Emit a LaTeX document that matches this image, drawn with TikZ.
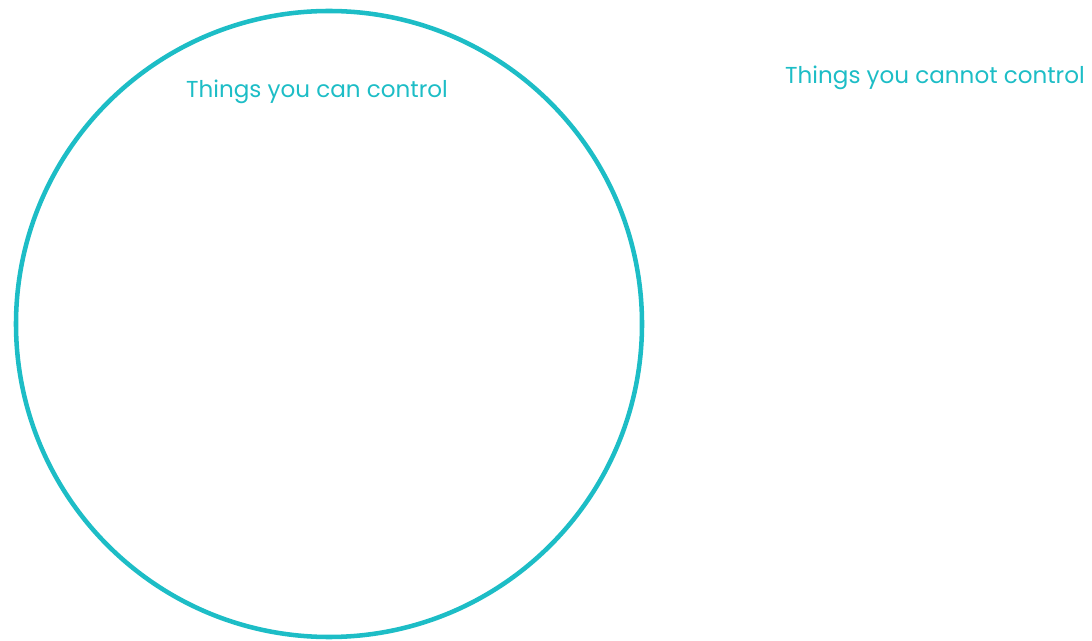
\documentclass[tikz,border=0pt]{standalone}
\usepackage{fontspec}
\setmainfont{Poppins}
\definecolor{teal}{HTML}{1DBDC6}
\begin{document}
\begin{tikzpicture}[x=0.75pt,y=-0.75pt,
every node/.style={text=teal, font=\fontsize{17.3}{20}\selectfont, inner sep=0pt}
]
\useasboundingbox (0,0) rectangle (1092,641);
\node[draw=teal, line width=3.4pt, circle, minimum size=626*0.75pt] (control) at (329,324) {};
\node (can) at (317,92) {Things you can control};
\node (cannot) at (935,78) {Things you cannot control};
\end{tikzpicture}
\end{document}
